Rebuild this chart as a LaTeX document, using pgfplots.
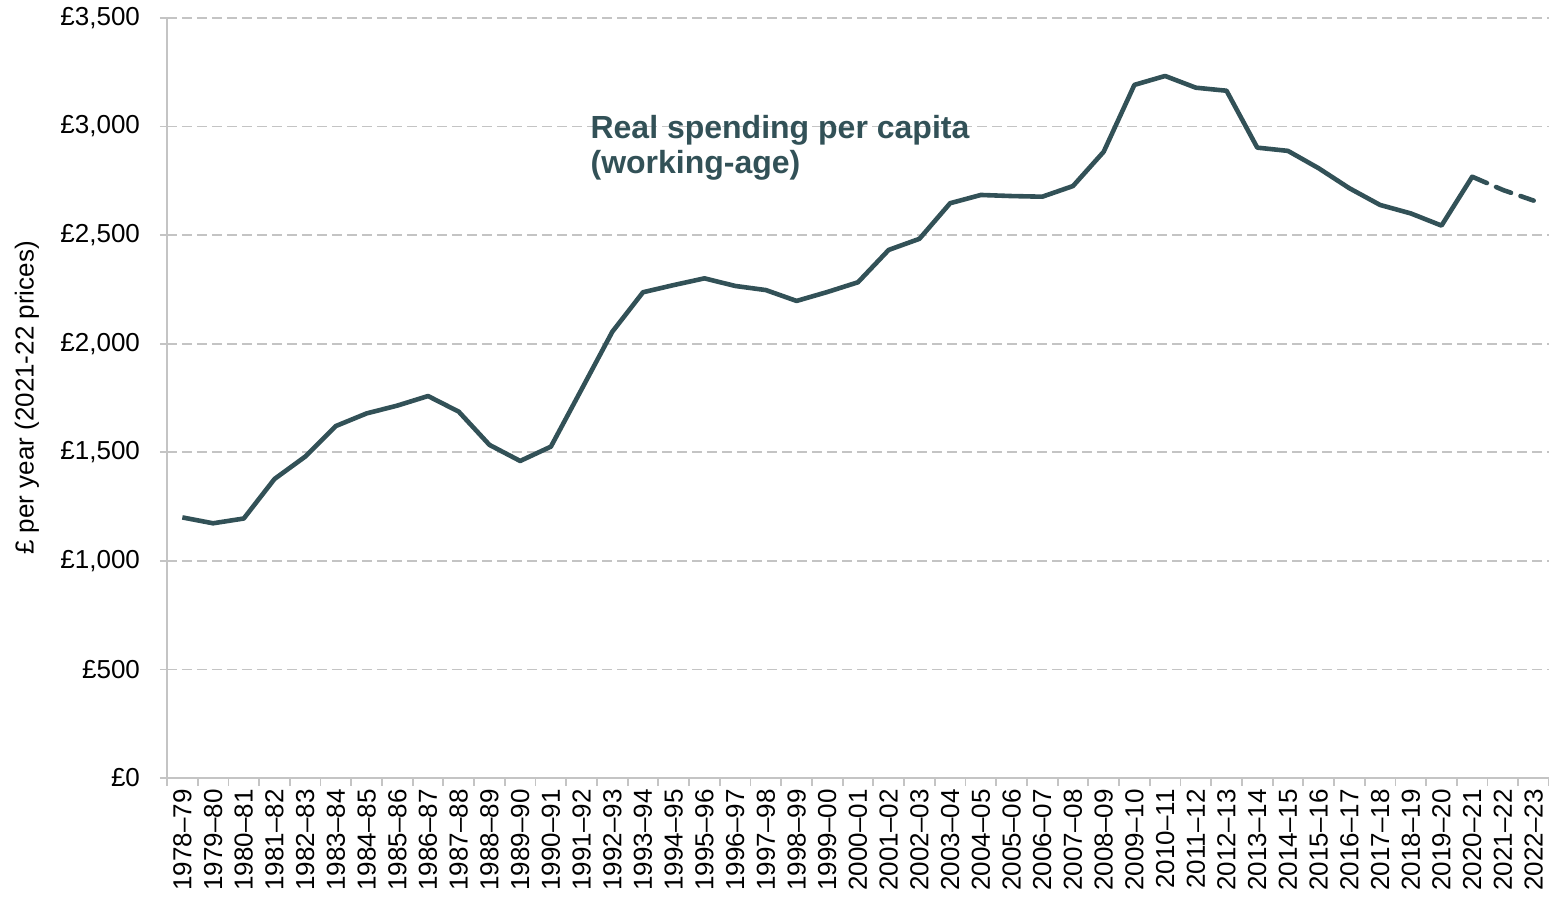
\documentclass[border=0pt]{standalone}
\usepackage{pgfplots}
\pgfplotsset{compat=1.18}
\usetikzlibrary{calc}
\usepackage{fontspec}
\setmainfont{Liberation Sans}
\definecolor{lineslate}{HTML}{325157}
\definecolor{gridgrey}{HTML}{C4C4C4}
\begin{document}
\begin{tikzpicture}
\begin{axis}[
    scale only axis,
    width=691pt,
    height=380pt,
    xmin=-0.5, xmax=44.5,
    ymin=0, ymax=3500,
    axis x line*=bottom,
    axis y line*=left,
    axis line style={draw=gridgrey, line width=0.9pt, -},
    xtick={0,...,44},
    xticklabels={1978–79,1979–80,1980–81,1981–82,1982–83,1983–84,1984–85,1985–86,1986–87,1987–88,
                 1988–89,1989–90,1990–91,1991–92,1992–93,1993–94,1994–95,1995–96,1996–97,1997–98,
                 1998–99,1999–00,2000–01,2001–02,2002–03,2003–04,2004–05,2005–06,2006–07,2007–08,
                 2008–09,2009–10,2010–11,2011–12,2012–13,2013–14,2014–15,2015–16,2016–17,2017–18,
                 2018–19,2019–20,2020–21,2021–22,2022–23},
    x tick label style={rotate=90, anchor=east, inner sep=2pt},
    major x tick style={draw=none},
    minor xtick={-0.5,0.5,...,44.5},
    minor x tick style={draw=gridgrey, line width=0.9pt},
    ytick={0,500,...,3500},
    yticklabels={{£0},{£500},{£1,000},{£1,500},{£2,000},{£2,500},{£3,000},{£3,500}},
    y tick label style={xshift=-6.5pt},
    y tick style={draw=gridgrey, line width=0.9pt},
    tick align=outside,
    major tick length=3.5pt,
    minor tick length=4pt,
    ymajorgrids,
    grid style={gridgrey, line width=0.8pt, dash pattern=on 5pt off 2.5pt},
    tick label style={font=\fontsize{13}{15}\selectfont, text=black},
    ylabel={£ per year (2021-22 prices)},
    ylabel style={font=\fontsize{13}{15}\selectfont, at={([xshift=-70pt]axis description cs:0,0.5)}, anchor=center},
    clip=false,
]
% solid outturn
\addplot[lineslate, line width=2.3pt, line join=round] coordinates {
    (0,1200) (1,1173) (2,1195) (3,1377) (4,1480) (5,1621) (6,1679) (7,1715)
    (8,1759) (9,1687) (10,1534) (11,1460) (12,1526) (13,1790) (14,2055)
    (15,2237) (16,2270) (17,2301) (18,2266) (19,2247) (20,2197) (21,2238)
    (22,2283) (23,2432) (24,2483) (25,2647) (26,2685) (27,2680) (28,2677)
    (29,2726) (30,2884) (31,3192) (32,3233) (33,3179) (34,3165) (35,2903)
    (36,2888) (37,2808) (38,2716) (39,2639) (40,2600) (41,2544) (42,2769)
};
% projected
\addplot[lineslate, line width=2.3pt, line cap=round, dash pattern=on 8pt off 5pt] coordinates {
    (42,2769) (43,2708) (44,2659)
};
\node[anchor=base west, inner sep=0pt, text=lineslate, font=\fontsize{16}{19}\selectfont\bfseries]
    at (axis cs:13.28,2947) {Real spending per capita};
\node[anchor=base west, inner sep=0pt, text=lineslate, font=\fontsize{16}{19}\selectfont\bfseries]
    at (axis cs:13.28,2782) {(working-age)};
\coordinate (bl) at (rel axis cs:0,0);
\coordinate (tr) at (rel axis cs:1,1);
\end{axis}
\pgfresetboundingbox
\path[use as bounding box] ($(bl)+(-83.5pt,-60.5pt)$) rectangle ($(tr)+(0pt,9pt)$);
\end{tikzpicture}
\end{document}
